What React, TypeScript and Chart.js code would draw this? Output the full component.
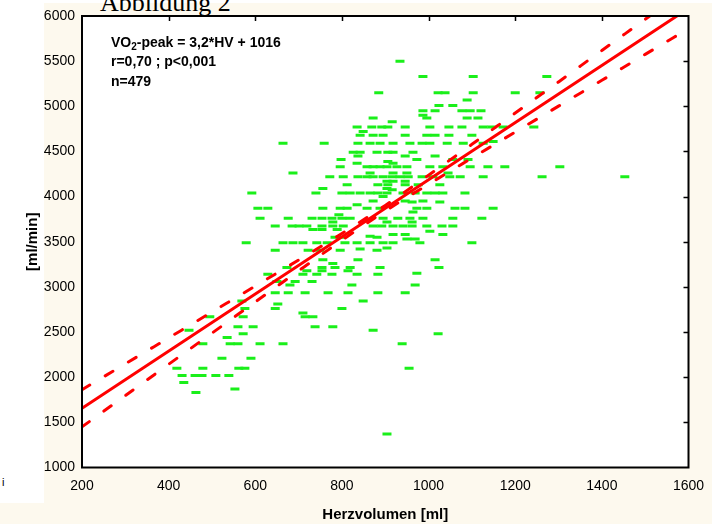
import React, { useEffect, useRef } from "react";
import { Chart, registerables } from "chart.js";

Chart.register(...registerables);

const FONT = "'Liberation Sans', Arial, Helvetica, sans-serif";

// Axis ranges and tick values
const xRange = [200, 1600];
const yRange = [1000, 6000];
const xTickValues = [200, 400, 600, 800, 1000, 1200, 1400, 1600];
const yTickValues = [1000, 1500, 2000, 2500, 3000, 3500, 4000, 4500, 5000, 5500, 6000];

// Scatter: Herzvolumen [ml] (x) vs VO2-peak [ml/min] (y)
const heartVolume = [
  934,
  987, 1103, 1273,
  885, 1022, 1038, 1103, 1200, 1257,
  1089,
  1024, 1056,
  987, 1015, 1077, 1096, 1121,
  987,
  872, 996, 1089, 1114,
  916,
  835, 869, 892, 906, 946, 1003, 1047, 1077, 1126, 1146, 1172, 1243,
  849,
  842, 872, 895, 946, 996, 1015, 1047, 1100,
  1149,
  664, 759, 837, 865, 888, 918, 957, 985, 1003, 1043, 1080, 1126,
  826, 842, 881, 906, 918, 964,
  837, 946, 1015,
  798, 973, 1056, 1091,
  906,
  835, 918,
  796, 858, 872, 888, 904, 927, 950, 1003, 1033, 1096, 1137, 1176, 1303,
  687, 865, 918, 950, 1045,
  772, 803, 837, 858, 872, 895, 916, 934, 953, 985, 1010, 1049, 1073, 1126, 1262, 1453,
  904, 918, 946,
  812, 883, 906, 946, 976, 1026,
  756, 904,
  916,
  592, 740, 800, 819, 842, 865, 883, 904, 941, 969, 996, 1015, 1033, 1084,
  895,
  872, 946, 987,
  962, 1026,
  835,
  606, 629, 756, 796, 812, 858, 888, 973, 996, 1061, 1084, 1149,
  964,
  793,
  611, 676, 731, 754, 777, 800, 819, 895, 929, 957, 987, 1056, 1123,
  779, 904, 962,
  646, 685, 701, 719, 754, 779, 803, 872, 892, 918, 941, 962, 996, 1031, 1056,
  733, 754, 789,
  1003,
  918, 946, 1033,
  865,
  784, 796, 881,
  950, 969,
  579, 664, 687, 710, 742, 766, 807, 835, 865, 895, 918, 980, 1100,
  842,
  904,
  646, 722, 749, 796, 881,
  756, 837, 1015,
  779,
  673, 754, 784, 819, 888, 1024,
  719, 754, 814,
  973,
  629, 710, 742, 777, 835, 883,
  650, 692, 731,
  680, 823, 969,
  646, 676, 715, 768, 814, 883, 946,
  569, 849,
  652,
  576, 646, 800,
  710,
  495, 572, 715, 733,
  560, 595, 738, 779,
  447, 872,
  572, 1022,
  535,
  479, 542, 560, 611, 664, 939,
  523, 590,
  419, 479, 562, 576, 955,
  431, 461, 477, 509, 539,
  435,
  553,
  463,
  904,
];

const vo2Peak = [
  5500,
  5330, 5330, 5330,
  5150, 5150, 5150, 5150, 5150, 5150,
  5070,
  5010, 5010,
  4950, 4950, 4950, 4950, 4950,
  4900,
  4870, 4870, 4870, 4870,
  4830,
  4770, 4770, 4770, 4770, 4770, 4770, 4770, 4770, 4770, 4770, 4770, 4770,
  4720,
  4680, 4680, 4680, 4680, 4680, 4680, 4680, 4680,
  4610,
  4590, 4590, 4590, 4590, 4590, 4590, 4590, 4590, 4590, 4590, 4590, 4590,
  4490, 4490, 4490, 4490, 4490, 4490,
  4450, 4450, 4450,
  4410, 4410, 4410, 4410,
  4390,
  4370, 4370,
  4330, 4330, 4330, 4330, 4330, 4330, 4330, 4330, 4330, 4330, 4330, 4330, 4330,
  4260, 4260, 4260, 4260, 4260,
  4220, 4220, 4220, 4220, 4220, 4220, 4220, 4220, 4220, 4220, 4220, 4220, 4220, 4220, 4220, 4220,
  4170, 4170, 4170,
  4130, 4130, 4130, 4130, 4130, 4130,
  4090, 4090,
  4075,
  4040, 4040, 4040, 4040, 4040, 4040, 4040, 4040, 4040, 4040, 4040, 4040, 4040, 4040,
  4000,
  3950, 3950, 3950,
  3940, 3940,
  3910,
  3870, 3870, 3870, 3870, 3870, 3870, 3870, 3870, 3870, 3870, 3870, 3870,
  3830,
  3800,
  3760, 3760, 3760, 3760, 3760, 3760, 3760, 3760, 3760, 3760, 3760, 3760, 3760,
  3720, 3720, 3720,
  3675, 3675, 3675, 3675, 3675, 3675, 3675, 3675, 3675, 3675, 3675, 3675, 3675, 3675, 3675,
  3635, 3635, 3635,
  3615,
  3580, 3580, 3580,
  3560,
  3550, 3550, 3550,
  3530, 3530,
  3490, 3490, 3490, 3490, 3490, 3490, 3490, 3490, 3490, 3490, 3490, 3490, 3490,
  3420,
  3430,
  3405, 3405, 3405, 3405, 3405,
  3300, 3300, 3300,
  3260,
  3215, 3215, 3215, 3215, 3215, 3215,
  3180, 3180, 3180,
  3150,
  3140, 3140, 3140, 3140, 3140, 3140,
  3060, 3060, 3060,
  3020, 3020, 3020,
  2935, 2935, 2935, 2935, 2935, 2935, 2935,
  2845, 2845,
  2810,
  2760, 2760, 2760,
  2710,
  2670, 2670, 2670, 2670,
  2560, 2560, 2560, 2560,
  2520, 2520,
  2480, 2480,
  2440,
  2370, 2370, 2370, 2370, 2370, 2370,
  2210, 2210,
  2100, 2100, 2100, 2100, 2100,
  2020, 2020, 2020, 2020, 2020,
  1940,
  1870,
  1830,
  1370,
];

// Regression line (solid) and confidence band (dashed)
const regressionX = [200, 1600];
const regressionY = [1656, 6085];
const bandX = [200, 300, 400, 500, 600, 700, 800, 900, 1000, 1100, 1200, 1300, 1400, 1500, 1600];
const bandUpper = [1862, 2148, 2435, 2722, 3009, 3298, 3591, 3902, 4237, 4579, 4925, 5270, 5618, 5963, 6310];
const bandLower = [1450, 1796, 2143, 2488, 2833, 3178, 3517, 3840, 4137, 4427, 4715, 5002, 5288, 5575, 5860];

const CREAM = "#fdf9ee";

const framePlugin = {
  id: "frameAndTicks",
  beforeDraw(chart: any) {
    const { ctx, chartArea } = chart;
    const { left, top, right, bottom } = chartArea;
    ctx.save();
    ctx.fillStyle = "#ffffff";
    ctx.fillRect(left, top, right - left, bottom - top);
    ctx.restore();
  },
  afterDraw(chart: any) {
    const { ctx, chartArea, scales } = chart;
    const { left, top, right, bottom } = chartArea;
    ctx.save();
    ctx.strokeStyle = "#000";
    ctx.lineWidth = 2;
    ctx.strokeRect(left, top, right - left, bottom - top);
    ctx.lineWidth = 1.5;
    ctx.beginPath();
    for (const v of xTickValues) {
      if (v <= xRange[0] || v >= xRange[1]) continue;
      const px = Math.round(scales.x.getPixelForValue(v)) + 0.5;
      ctx.moveTo(px, top);
      ctx.lineTo(px, top + 5);
    }
    for (const v of yTickValues) {
      if (v <= yRange[0] || v >= yRange[1]) continue;
      const py = Math.round(scales.y.getPixelForValue(v)) + 0.5;
      ctx.moveTo(right, py);
      ctx.lineTo(right - 5, py);
    }
    ctx.stroke();
    ctx.restore();
  },
};

export default function App() {
  const canvasRef = useRef<HTMLCanvasElement | null>(null);

  useEffect(() => {
    if (!canvasRef.current) return;
    const points = heartVolume.map((x, i) => ({ x, y: vo2Peak[i] }));
    const reg = regressionX.map((x, i) => ({ x, y: regressionY[i] }));
    const up = bandX.map((x, i) => ({ x, y: bandUpper[i] }));
    const lo = bandX.map((x, i) => ({ x, y: bandLower[i] }));

    const lineCommon = {
      showLine: true,
      pointRadius: 0,
      borderColor: "#ff0000",
      borderWidth: 3,
      fill: false,
      borderCapStyle: "round" as const,
      order: 0,
    };

    const chart = new Chart(canvasRef.current, {
      type: "scatter",
      data: {
        datasets: [
          { ...lineCommon, label: "Regression", data: reg },
          {
            ...lineCommon,
            label: "KI oben",
            data: up,
            borderDash: [9, 18],
            cubicInterpolationMode: "monotone",
          },
          {
            ...lineCommon,
            label: "KI unten",
            data: lo,
            borderDash: [9, 18],
            cubicInterpolationMode: "monotone",
          },
          {
            label: "Patienten",
            data: points,
            pointStyle: "line",
            pointRadius: 4.5,
            borderWidth: 3,
            borderColor: "#1aef1a",
            backgroundColor: "#1aef1a",
            order: 1,
          },
        ],
      },
      options: {
        animation: false,
        responsive: false,
        maintainAspectRatio: false,
        events: [],
        layout: { padding: { left: 0, top: 16, right: 30.5, bottom: 0 } },
        plugins: {
          legend: { display: false },
          tooltip: { enabled: false },
          title: { display: false },
        },
        scales: {
          x: {
            type: "linear",
            min: xRange[0],
            max: xRange[1],
            afterFit(scale: any) {
              scale.height = 56.5;
            },
            afterBuildTicks(scale: any) {
              scale.ticks = xTickValues.map((v) => ({ value: v }));
            },
            grid: { display: false, drawTicks: false },
            border: { display: false },
            ticks: {
              color: "#000",
              padding: 10,
              maxRotation: 0,
              font: { family: FONT, size: 14 },
              callback: (v: any) => String(v),
            },
            title: {
              display: true,
              text: "Herzvolumen [ml]",
              color: "#000",
              font: { family: FONT, size: 15, weight: "bold" },
              padding: { top: 0, bottom: 0 },
            },
          },
          y: {
            type: "linear",
            min: yRange[0],
            max: yRange[1],
            afterFit(scale: any) {
              scale.width = 82;
            },
            afterBuildTicks(scale: any) {
              scale.ticks = yTickValues.map((v) => ({ value: v }));
            },
            grid: { display: false, drawTicks: false },
            border: { display: false },
            ticks: {
              color: "#000",
              padding: 7,
              font: { family: FONT, size: 14 },
              callback: (v: any) => String(v),
            },
            title: {
              display: true,
              text: "[ml/min]",
              color: "#000",
              font: { family: FONT, size: 15, weight: "bold" },
              padding: { top: 24, bottom: 0 },
            },
          },
        },
      },
      plugins: [framePlugin],
    } as any);

    return () => chart.destroy();
  }, []);

  const annot: React.CSSProperties = {
    position: "absolute",
    left: 111,
    fontFamily: FONT,
    fontWeight: "bold",
    fontSize: 14,
    lineHeight: "14px",
    color: "#000",
    whiteSpace: "nowrap",
  };

  return (
    <div
      style={{
        position: "fixed",
        left: 0,
        top: 0,
        width: 719,
        height: 524,
        background: "#ffffff",
        overflow: "hidden",
      }}
    >
      <div style={{ position: "absolute", left: 0, top: 3, width: 712, height: 521, background: CREAM }} />
      <div style={{ position: "absolute", left: 0, top: 0, width: 44, height: 503, background: "#ffffff" }} />
      <div
        style={{
          position: "absolute",
          left: 2,
          top: 477,
          fontFamily: FONT,
          fontSize: 11,
          lineHeight: "11px",
          color: "#000",
        }}
      >
        i
      </div>
      <div
        style={{
          position: "absolute",
          left: 100,
          top: -10,
          fontFamily: "'Liberation Serif', 'Times New Roman', serif",
          fontSize: 26,
          lineHeight: "26px",
          color: "#000",
          whiteSpace: "nowrap",
        }}
      >
        Abbildung 2
      </div>
      <canvas
        ref={canvasRef}
        width={719}
        height={524}
        style={{ position: "absolute", left: 0, top: 0, width: 719, height: 524 }}
      />
      <div style={{ ...annot, top: 35 }}>
        VO<span style={{ fontSize: 10, position: "relative", top: 3 }}>2</span>-peak = 3,2*HV + 1016
      </div>
      <div style={{ ...annot, top: 54 }}>r=0,70 ; p&lt;0,001</div>
      <div style={{ ...annot, top: 74 }}>n=479</div>
    </div>
  );
}
